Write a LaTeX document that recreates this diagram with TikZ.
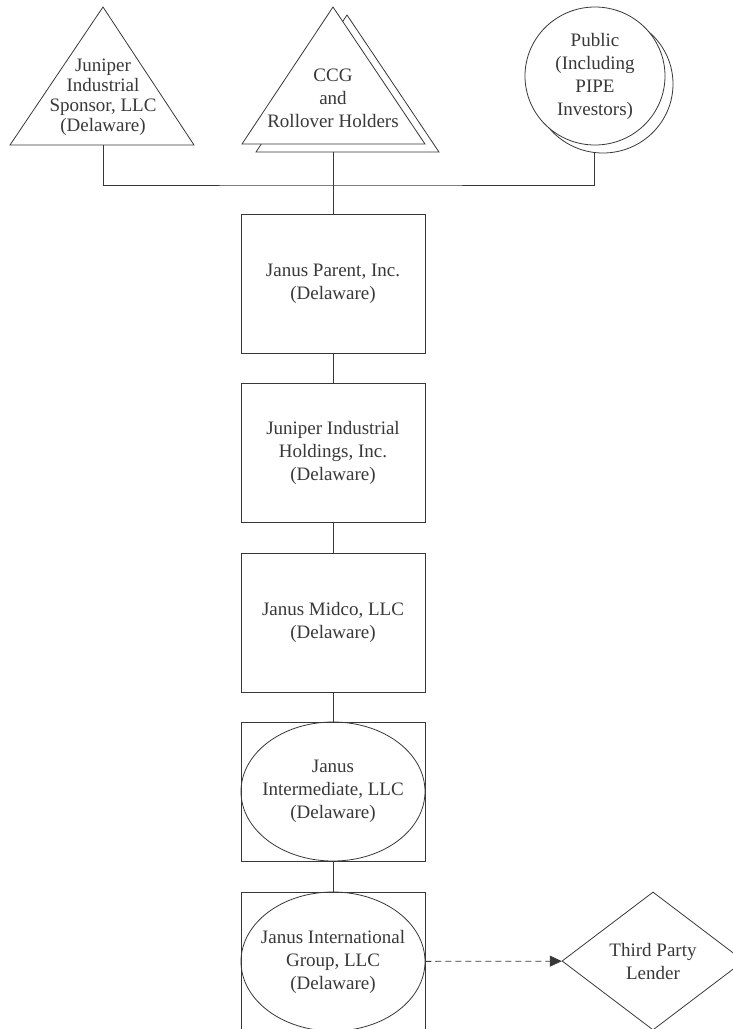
\documentclass[tikz,border=0pt]{standalone}
\usepackage{fontspec}
\setmainfont{Liberation Serif}
\usetikzlibrary{shapes.geometric,arrows.meta}

\def \ccgback {\draw[fill=white] (256,152) -- (347,15) -- (439,152) -- cycle;}
\def \ccgfront {\draw[fill=white] (242,144) -- (333,7) -- (425,144) -- cycle;}
\def \sponsfront {\draw (10,145) -- (103,7) -- (194,145) -- cycle;}

\begin{document}
\begin{tikzpicture}[x=1pt, y=-1pt, line width=.8pt, color=black!78]

\useasboundingbox (0,0) rectangle (733,1029);

\ccgback
\ccgfront
\sponsfront

\begin{scope}[every node/.style={align=center, inner sep=0pt, font=\fontsize{19}{23}\selectfont}]
\node(spons) at(103,97) [font=\fontsize{19}{20}\selectfont] {Juniper\\Industrial\\Sponsor, LLC\\(Delaware)};
\node(ccg) at(333,98) {CCG\\and\\Rollover Holders};
\node(pubb) at(603,84) [ellipse, draw, fill=white, minimum width=140, minimum height=138] {};
\node(pub) at(595,76) [ellipse, draw, fill=white, minimum width=140, minimum height=138] {Public\\(Including\\PIPE\\Investors)};

\node(parent) at(333,283.5) [draw, minimum width=184, minimum height=139] {Janus Parent, Inc.\\(Delaware)};
\node(hold) at(333,453) [draw, minimum width=184, minimum height=139] {Juniper Industrial\\Holdings, Inc.\\(Delaware)};
\node(midco) at(333,622.5) [draw, minimum width=184, minimum height=139] {Janus Midco, LLC\\(Delaware)};
\node(interbox) at(333,791.5) [draw, minimum width=184, minimum height=139] {};
\node(inter) at(333,791.5) [ellipse, draw, inner sep=-10pt, minimum width=184, minimum height=139] {Janus\\Intermediate, LLC\\(Delaware)};
\node(intlbox) at(333,961.5) [draw, minimum width=184, minimum height=139] {};
\node(intl) at(333,961.5) [ellipse, draw, inner sep=-10pt, minimum width=184, minimum height=139] {Janus International\\Group, LLC\\(Delaware)};
\node(lender) at(653,961) [diamond, draw, aspect=1.3, minimum width=182, minimum height=138] {Third Party\\Lender};
\end{scope}

\coordinate(sponsb) at(103,145);
\coordinate(ccgb) at(333,152);
\coordinate(bus) at(333,185);

\draw (sponsb) |- (bus) -| (pubb.263);
\draw (ccgb) -- (parent.north);

\draw (parent) -- (hold);
\draw (hold) -- (midco);
\draw (midco) -- (interbox);
\draw (interbox) -- (intlbox);

\draw[dash pattern=on 6pt off 4pt, -{Triangle[length=12pt, width=11pt]}] (intl) -- (lender);

\end{tikzpicture}
\end{document}
